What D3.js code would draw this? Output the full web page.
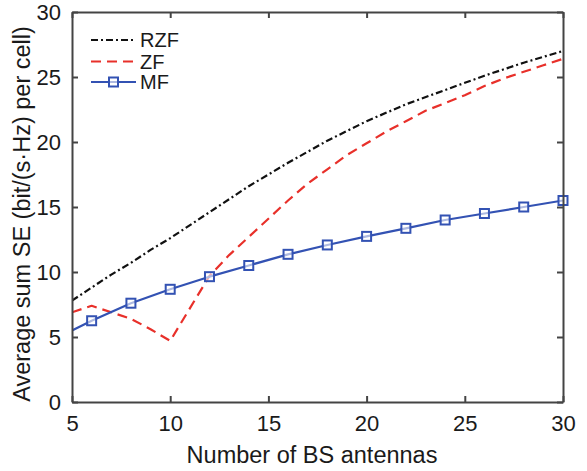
<!DOCTYPE html>
<html><head><meta charset="utf-8">
<script src="https://cdn.jsdelivr.net/npm/d3@7"></script>
<style>body{margin:0;background:#fff}svg{display:block}text{font-family:Arial,"Liberation Sans",sans-serif;fill:#1a1a1a}</style>
</head><body>
<svg id="c" width="587" height="471"></svg>
<script>
const xTicks = [5, 10, 15, 20, 25, 30];
const yTicks = [0, 5, 10, 15, 20, 25, 30];

const rzfX = [5, 6, 7, 8, 9, 10, 12, 14, 16, 18, 20, 22, 24, 26, 28, 30];
const rzfY = [7.8, 8.8, 9.8, 10.7, 11.7, 12.6, 14.6, 16.6, 18.4, 20.1, 21.6, 22.9, 24.0, 25.1, 26.1, 27.0];

const zfX = [5, 6, 7, 8, 9, 10, 11, 12, 13, 14, 15, 16, 17, 18, 19, 20, 21, 22, 23, 24, 25, 26, 27, 28, 29, 30];
const zfY = [6.9, 7.4, 6.9, 6.4, 5.6, 4.7, 7.2, 9.7, 11.3, 12.7, 14.1, 15.5, 16.8, 17.9, 19.0, 19.9, 20.8, 21.6, 22.4, 23.0, 23.6, 24.3, 24.9, 25.4, 25.9, 26.4];

const mfX = [5, 6, 8, 10, 12, 14, 16, 18, 20, 22, 24, 26, 28, 30];
const mfY = [5.5, 6.25, 7.6, 8.67, 9.64, 10.5, 11.36, 12.08, 12.74, 13.36, 14.0, 14.5, 15.0, 15.5];

const seriesNames = ["RZF", "ZF", "MF"];
const colors = {RZF: "#111111", ZF: "#e8302a", MF: "#3352b3"};
const dashes = {RZF: "7,3,2,3", ZF: "10,6", MF: null};

const m = {l: 72, r: 563, t: 12, b: 402};
const x = d3.scaleLinear().domain([5, 30]).range([m.l, m.r]);
const y = d3.scaleLinear().domain([0, 30]).range([m.b, m.t]);
const svg = d3.select("#c");
const axisColor = "#444";

const toPts = (xs, ys) => xs.map((v, i) => [v, ys[i]]);
const data = {RZF: toPts(rzfX, rzfY), ZF: toPts(zfX, zfY), MF: toPts(mfX, mfY)};

const line = d3.line().x(d => x(d[0])).y(d => y(d[1]));
svg.append("clipPath").attr("id", "pc").append("rect")
  .attr("x", m.l).attr("y", m.t).attr("width", m.r - m.l).attr("height", m.b - m.t);

const g = svg.append("g").attr("clip-path", "url(#pc)");
seriesNames.forEach(n => {
  g.append("path").datum(data[n]).attr("d", line).attr("fill", "none")
    .attr("stroke", colors[n]).attr("stroke-width", 2.2)
    .attr("stroke-linejoin", "round")
    .attr("stroke-dasharray", dashes[n]);
});
svg.append("g").selectAll("rect").data(data.MF.filter(d => d[0] % 2 === 0)).join("rect")
  .attr("x", d => x(d[0]) - 4.5).attr("y", d => y(d[1]) - 4.5)
  .attr("width", 9).attr("height", 9).attr("fill", "#fff").attr("fill-opacity", 0.6)
  .attr("stroke", colors.MF).attr("stroke-width", 2);

// axes (box with inward ticks)
const tickLen = 6;
const ax = svg.append("g");
const axB = d3.axisBottom(x).tickValues(xTicks).tickSizeInner(-tickLen).tickSizeOuter(0).tickPadding(12);
const axT = d3.axisTop(x).tickValues(xTicks).tickSizeInner(-tickLen).tickSizeOuter(0).tickFormat("");
const axL = d3.axisLeft(y).tickValues(yTicks).tickSizeInner(-tickLen).tickSizeOuter(0).tickPadding(11);
const axR = d3.axisRight(y).tickValues(yTicks).tickSizeInner(-tickLen).tickSizeOuter(0).tickFormat("");
const gb = ax.append("g").attr("transform", `translate(0,${m.b})`).call(axB);
const gt = ax.append("g").attr("transform", `translate(0,${m.t})`).call(axT);
const gl = ax.append("g").attr("transform", `translate(${m.l},0)`).call(axL);
const gr = ax.append("g").attr("transform", `translate(${m.r},0)`).call(axR);
[gb, gt, gl, gr].forEach(a => {
  a.select(".domain").attr("stroke", axisColor).attr("stroke-width", 2);
  a.selectAll(".tick line").attr("stroke", axisColor).attr("stroke-width", 2);
  a.selectAll("text").attr("font-size", 22).attr("fill", "#1a1a1a").attr("font-family", "Arial, 'Liberation Sans', sans-serif");
});
gb.selectAll("text").attr("dy", "0.75em");
gl.selectAll("text").attr("dy", "0.35em");

// axis titles
svg.append("text").attr("x", 312).attr("y", 463).attr("text-anchor", "middle")
  .attr("font-size", 23.5).text("Number of BS antennas");
svg.append("text").attr("transform", "translate(30,214) rotate(-90)").attr("text-anchor", "middle")
  .attr("font-size", 23.5).text("Average sum SE (bit/(s·Hz) per cell)");

// legend
const lg = svg.append("g");
const rows = [40, 61.5, 82];
seriesNames.forEach((n, i) => {
  lg.append("line").attr("x1", 91).attr("x2", 136).attr("y1", rows[i]).attr("y2", rows[i])
    .attr("stroke", colors[n]).attr("stroke-width", 2.2).attr("stroke-dasharray", dashes[n]);
  if (n === "MF") {
    lg.append("rect").attr("x", 113.5 - 4.5).attr("y", rows[i] - 4.5).attr("width", 9).attr("height", 9)
      .attr("fill", "#fff").attr("fill-opacity", 0.6).attr("stroke", colors[n]).attr("stroke-width", 2);
  }
  lg.append("text").attr("x", 140).attr("y", rows[i]).attr("dy", "0.36em").attr("font-size", 20).text(n);
});
</script>
</body></html>
